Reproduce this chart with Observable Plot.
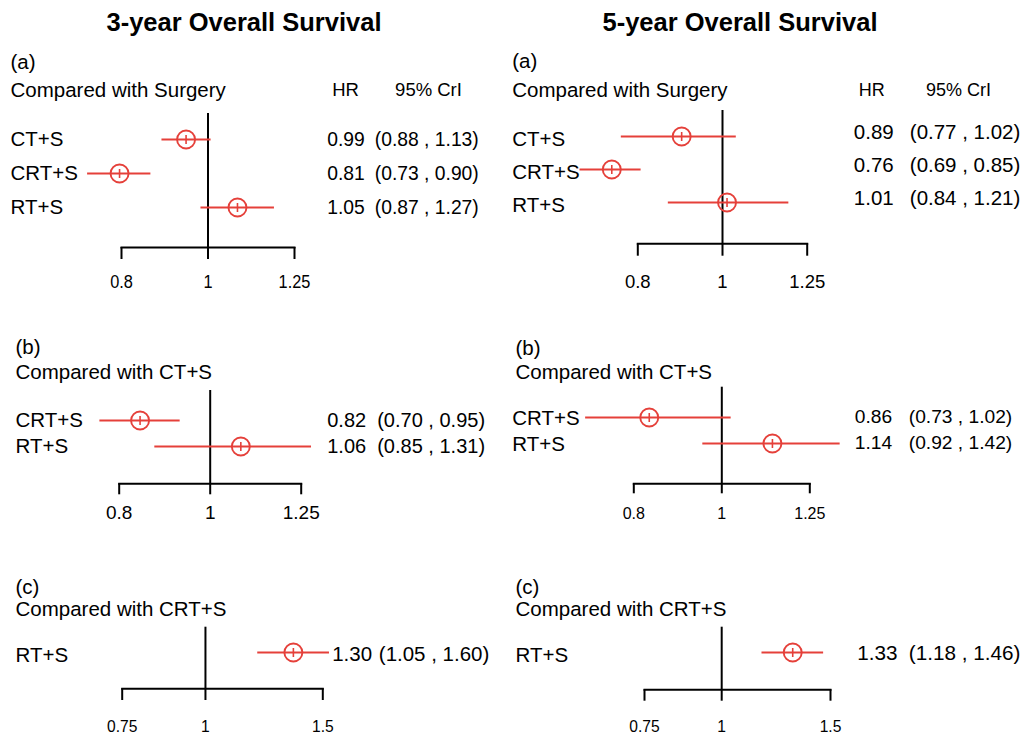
<!DOCTYPE html>
<html>
<head>
<meta charset="utf-8">
<script src="https://cdn.jsdelivr.net/npm/d3@7"></script>
<script src="https://cdn.jsdelivr.net/npm/@observablehq/plot@0.6"></script>
<style>
  html, body { margin: 0; padding: 0; background: #fff; }
  #root { position: relative; width: 1034px; height: 736px; overflow: hidden; background: #fff;
          font-family: "Liberation Sans", Arial, Helvetica, sans-serif; color: #000; }
  .title { position: absolute; top: 7px; font-weight: bold; font-size: 25.5px; line-height: 30px;
           white-space: nowrap; transform: translateX(-50%); }
  .panel { position: absolute; }
</style>
</head>
<body>
<div id="root"></div>
<script>
// ---------------- data ----------------
const titles = ["3-year Overall Survival", "5-year Overall Survival"];
const panelTags = ["(a)", "(b)", "(c)"];
const comparators = ["Compared with Surgery", "Compared with CT+S", "Compared with CRT+S"];
const headerHR = "HR";
const headerCI = "95% CrI";
const ticksAB = [0.8, 1, 1.25];
const ticksC = [0.75, 1, 1.5];

const rowsA = ["CT+S", "CRT+S", "RT+S"];
const rowsB = ["CRT+S", "RT+S"];
const rowsC = ["RT+S"];

// 3-year (a) — reported HR and 95% CrI
const hr3a = [0.99, 0.81, 1.05];
const lo3a = [0.88, 0.73, 0.87];
const hi3a = [1.13, 0.90, 1.27];
// 3-year (a) — marker / interval positions as drawn in the figure
const drawnEst3a = [0.945, 0.796, 1.079];
const drawnLo3a = [0.888, 0.733, 0.982];
const drawnHi3a = [1.008, 0.863, 1.187];

// 5-year (a)
const hr5a = [0.89, 0.76, 1.01];
const lo5a = [0.77, 0.69, 0.84];
const hi5a = [1.02, 0.85, 1.21];
const drawnEst5a = [0.898, 0.747, 1.012];
const drawnLo5a = [0.766, 0.687, 0.867];
const drawnHi5a = [1.037, 0.807, 1.191];

// 3-year (b)
const hr3b = [0.82, 1.06];
const lo3b = [0.70, 0.85];
const hi3b = [0.95, 1.31];
const drawnEst3b = [0.842, 1.078];
const drawnLo3b = [0.763, 0.873];
const drawnHi3b = [0.929, 1.282];

// 5-year (b)
const hr5b = [0.86, 1.14];
const lo5b = [0.73, 0.92];
const hi5b = [1.02, 1.42];
const drawnEst5b = [0.832, 1.137];
const drawnLo5b = [0.708, 0.953];
const drawnHi5b = [1.024, 1.350];

// 3-year (c)
const hr3c = [1.30];
const lo3c = [1.05];
const hi3c = [1.60];
const drawnEst3c = [1.355];
const drawnLo3c = [1.198];
const drawnHi3c = [1.535];

// 5-year (c)
const hr5c = [1.33];
const lo5c = [1.18];
const hi5c = [1.46];
const drawnEst5c = [1.303];
const drawnLo5c = [1.162];
const drawnHi5c = [1.462];

// ---------------- helpers ----------------
const RED = "#E5403A";
const FONT = "'Liberation Sans', Arial, Helvetica, sans-serif";

function table(rows, hr, lo, hi, dEst, dLo, dHi) {
  return rows.map((row, i) => ({row, hr: hr[i], lo: lo[i], hi: hi[i], est: dEst[i], x1: dLo[i], x2: dHi[i]}));
}

// vertical bar symbol (the "+" inside the circle; its horizontal arm lies on the CI line)
const vbar = {
  draw(ctx, size) {
    const r = Math.sqrt(size / Math.PI);
    ctx.moveTo(0, -r);
    ctx.lineTo(0, r);
  }
};

// layout (page pixel coordinates)
const layout = {
  A3: {left: 0, top: 40, w: 517, h: 260, xLo: 121, xHi: 294, lineTop: 113, axisY: 247, tickBottom: 259, tickCY: 281, tickFont: 19, tickSqueeze: 0.86,
       rowY: [138.3, 206.7], labelX: 10, labelDy: 0, valX: 326.7, ciX: 374.3, valFont: 19.3, valDy: 0,
       tag: [10, 62], sub: [10, 90], hrHead: [345, 90], ciHead: [428, 90], headFont: 18.5},
  A5: {left: 517, top: 40, w: 517, h: 260, xLo: 637.3, xHi: 806.7, lineTop: 110, axisY: 243.3, tickBottom: 255.7, tickCY: 281, tickFont: 18.5, tickSqueeze: 1,
       rowY: [136, 202.7], labelX: 511.7, labelDy: 3.3, valX: 853.3, ciX: 909.3, valFont: 20.5, valDy: -3.8,
       tag: [511.7, 61], sub: [511.7, 90], hrHead: [871.3, 90], ciHead: [958, 90], headFont: 18},
  B3: {left: 0, top: 330, w: 517, h: 230, xLo: 118.7, xHi: 300.7, lineTop: 390, axisY: 483.3, tickBottom: 494.3, tickCY: 511.7, tickFont: 19, tickSqueeze: 1,
       rowY: [420, 446], labelX: 15, labelDy: 0, valX: 326.7, ciX: 376.7, valFont: 20, valDy: 0,
       tag: [15, 346.7], sub: [15, 371.7]},
  B5: {left: 517, top: 330, w: 517, h: 230, xLo: 633.3, xHi: 809.3, lineTop: 386.7, axisY: 483.3, tickBottom: 493.3, tickCY: 513.3, tickFont: 16, tickSqueeze: 1,
       rowY: [416.7, 442.7], labelX: 511.7, labelDy: 0.5, valX: 854.3, ciX: 908.3, valFont: 19.2, valDy: -1,
       tag: [515, 347.7], sub: [515, 371.7]},
  C3: {left: 0, top: 575, w: 517, h: 161, xLo: 121.7, xHi: 322.3, lineTop: 626.7, axisY: 688.3, tickBottom: 700, tickCY: 725, tickFont: 17, tickSqueeze: 0.92,
       rowY: [651.7, 651.7], labelX: 15, labelDy: 2.6, valX: 331.7, ciX: 378.3, valFont: 20.5, valDy: 2.3,
       tag: [15, 586.5], sub: [15, 608.5]},
  C5: {left: 517, top: 575, w: 517, h: 161, xLo: 644, xHi: 830, lineTop: 626.7, axisY: 689.3, tickBottom: 700.7, tickCY: 725, tickFont: 17, tickSqueeze: 0.92,
       rowY: [651.7, 651.7], labelX: 515, labelDy: 2.6, valX: 856.7, ciX: 908.3, valFont: 20.7, valDy: 0.6,
       tag: [515, 586.5], sub: [515, 608.5]}
};

const root = document.getElementById("root");

function addTitle(text, cx) {
  const d = document.createElement("div");
  d.className = "title";
  d.style.left = cx + "px";
  d.textContent = text;
  root.appendChild(d);
}

function drawPanel(g, data, ticks, tag, comparator, withHeader) {
  const ml = g.xLo - g.left, mr = g.left + g.w - g.xHi;
  const mt = g.lineTop - g.top, mb = g.top + g.h - g.axisY;
  const relX = (x) => x - g.xLo;
  const relY = (y) => y - g.lineTop;
  const tickSize = g.tickBottom - g.axisY;
  const tickPadding = g.tickCY - g.tickBottom - 0.355 * g.tickFont;
  const headText = (txt, pos, anchor, size) =>
    Plot.text([txt], {text: (d) => d, frameAnchor: "top-left", lineAnchor: "middle", textAnchor: anchor,
                      dx: relX(pos[0]), dy: relY(pos[1]), fontSize: size, fill: "black"});
  const headerMarks = [
    headText(tag, g.tag, "start", 20.5),
    headText(comparator, g.sub, "start", 20.5)
  ];
  if (withHeader) {
    headerMarks.push(headText(headerHR, g.hrHead, "middle", g.headFont));
    headerMarks.push(headText(headerCI, g.ciHead, "middle", g.headFont));
  }
  const chart = Plot.plot({
    width: g.w,
    height: g.h,
    marginLeft: ml,
    marginRight: mr,
    marginTop: mt,
    marginBottom: mb,
    style: {fontFamily: FONT, background: "transparent", overflow: "visible", color: "black"},
    x: {type: "log", domain: [ticks[0], ticks[ticks.length - 1]], label: null},
    y: {type: "point", padding: 0, domain: data.map((d) => d.row), range: [g.rowY[0] - g.top, g.rowY[1] - g.top], axis: null, label: null},
    marks: [
      Plot.frame({anchor: "bottom", stroke: "black", strokeWidth: 2}),
      Plot.ruleX([1], {stroke: "black", strokeWidth: 2}),
      Plot.axisX({ticks, tickFormat: (d) => String(d), tickSize, tickPadding, fontSize: g.tickFont,
                  stroke: "black", strokeWidth: 2, label: null}),
      Plot.ruleY(data, {y: "row", x1: "x1", x2: "x2", stroke: RED, strokeWidth: 2}),
      Plot.dot(data, {x: "est", y: "row", r: 9, stroke: RED, strokeWidth: 1.9, fill: "none"}),
      Plot.dot(data, {x: "est", y: "row", r: 4.5, symbol: vbar, stroke: RED, strokeWidth: 1.6, fill: "none"}),
      Plot.text(data, {y: "row", text: "row", frameAnchor: "left", textAnchor: "start",
                       dx: relX(g.labelX), dy: g.labelDy, fontSize: 20.5, fill: "black"}),
      Plot.text(data, {y: "row", text: (d) => d.hr.toFixed(2), frameAnchor: "left", textAnchor: "start",
                       dx: relX(g.valX), dy: g.valDy, fontSize: g.valFont, fill: "black"}),
      Plot.text(data, {y: "row", text: (d) => `(${d.lo.toFixed(2)} , ${d.hi.toFixed(2)})`, frameAnchor: "left", textAnchor: "start",
                       dx: relX(g.ciX), dy: g.valDy, fontSize: g.valFont, fill: "black"}),
      ...headerMarks
    ]
  });
  // the tick labels of some panels are horizontally condensed in the reference
  if (g.tickSqueeze !== 1) {
    chart.querySelectorAll('g[aria-label="x-axis tick label"] text').forEach((t) => {
      const tr = t.getAttribute("transform");
      if (tr) t.setAttribute("transform", `${tr} scale(${g.tickSqueeze},1)`);
    });
  }
  chart.classList.add("panel");
  chart.style.left = g.left + "px";
  chart.style.top = g.top + "px";
  root.appendChild(chart);
}

addTitle(titles[0], 244);
addTitle(titles[1], 740);

drawPanel(layout.A3, table(rowsA, hr3a, lo3a, hi3a, drawnEst3a, drawnLo3a, drawnHi3a), ticksAB, panelTags[0], comparators[0], true);
drawPanel(layout.A5, table(rowsA, hr5a, lo5a, hi5a, drawnEst5a, drawnLo5a, drawnHi5a), ticksAB, panelTags[0], comparators[0], true);
drawPanel(layout.B3, table(rowsB, hr3b, lo3b, hi3b, drawnEst3b, drawnLo3b, drawnHi3b), ticksAB, panelTags[1], comparators[1], false);
drawPanel(layout.B5, table(rowsB, hr5b, lo5b, hi5b, drawnEst5b, drawnLo5b, drawnHi5b), ticksAB, panelTags[1], comparators[1], false);
drawPanel(layout.C3, table(rowsC, hr3c, lo3c, hi3c, drawnEst3c, drawnLo3c, drawnHi3c), ticksC, panelTags[2], comparators[2], false);
drawPanel(layout.C5, table(rowsC, hr5c, lo5c, hi5c, drawnEst5c, drawnLo5c, drawnHi5c), ticksC, panelTags[2], comparators[2], false);
</script>
</body>
</html>
